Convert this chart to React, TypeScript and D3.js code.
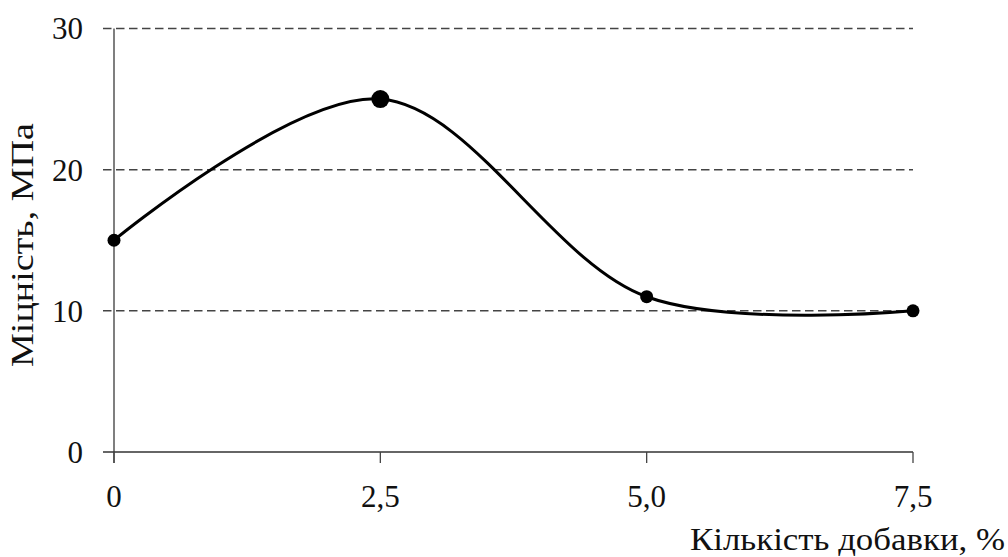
import React from "react";
import * as d3 from "d3";

const xValues = [0, 2.5, 5.0, 7.5];
const yValues = [15, 25, 11, 10];
const markerR = [6.5, 9, 6.5, 6.5];
const xTicks = [0, 2.5, 5.0, 7.5];
const xTickLabels = ["0", "2,5", "5,0", "7,5"];
const yTicks = [0, 10, 20, 30];
const xTitle = "Кількість добавки, %";
const yTitle = "Міцність, МПа";

export default function App() {
  const W = 1008, H = 557;
  const x = d3.scaleLinear().domain([0, 7.5]).range([114, 913]);
  const y = d3.scaleLinear().domain([0, 30]).range([452, 28.5]);
  const line = d3.line<number>()
    .x((_, i) => x(xValues[i]))
    .y((d) => y(d))
    .curve(d3.curveCatmullRom.alpha(0.5));
  const font = "'Liberation Serif', 'Times New Roman', serif";
  return (
    <svg width={W} height={H} style={{ position: "absolute", left: 0, top: 0 }} fontFamily={font} fill="#111">
      <rect width={W} height={H} fill="#fff" />
      {yTicks.filter((t) => t > 0).map((t) => (
        <line key={t} x1={103} x2={913} y1={y(t)} y2={y(t)} stroke="#444" strokeWidth={1.5} strokeDasharray="8.5,4.5" />
      ))}
      <line x1={114} x2={114} y1={y(30)} y2={463} stroke="#555" strokeWidth={1.5} />
      <line x1={103} x2={913} y1={y(0)} y2={y(0)} stroke="#333" strokeWidth={1.5} />
      {xTicks.map((t) => (
        <line key={t} x1={x(t)} x2={x(t)} y1={y(0)} y2={463} stroke="#444" strokeWidth={1.3} />
      ))}
      {yTicks.map((t) => (
        <text key={t} x={83} y={y(t)} dy="0.35em" textAnchor="end" fontSize={31}>{t}</text>
      ))}
      {xTicks.map((t, i) => (
        <text key={t} x={x(t)} y={507} textAnchor="middle" fontSize={31}>{xTickLabels[i]}</text>
      ))}
      <text x={690} y={550} fontSize={31} textLength={315} lengthAdjust="spacingAndGlyphs">{xTitle}</text>
      <text transform={`translate(33, 367) rotate(-90)`} fontSize={31} textLength={244} lengthAdjust="spacingAndGlyphs">{yTitle}</text>
      <path d={line(yValues) || ""} fill="none" stroke="#000" strokeWidth={3} />
      {yValues.map((v, i) => (
        <circle key={i} cx={x(xValues[i])} cy={y(v)} r={markerR[i]} fill="#000" />
      ))}
    </svg>
  );
}
